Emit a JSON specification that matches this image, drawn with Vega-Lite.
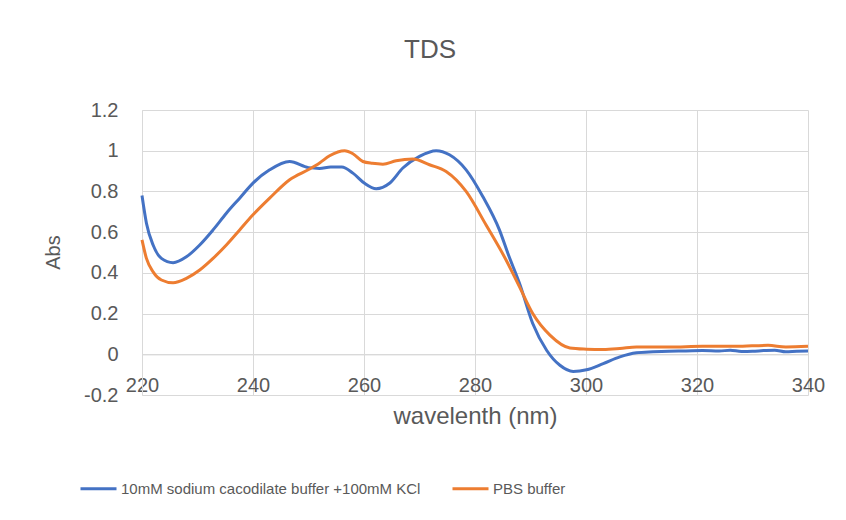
{
  "$schema": "https://vega.github.io/schema/vega-lite/v6.json",
  "autosize": "none",
  "width": 666,
  "height": 285,
  "padding": {"left": 142, "top": 110, "right": 38, "bottom": 125},
  "background": "white",
  "title": {
    "text": "TDS",
    "frame": "group",
    "anchor": "middle",
    "dx": -45,
    "offset": 16,
    "baseline": "alphabetic",
    "font": "Liberation Sans",
    "fontSize": 26,
    "fontWeight": "normal",
    "color": "#595959"
  },
  "data": {
    "values": [
      {"series": "10mM sodium cacodilate buffer +100mM KCl", "wl": 220, "abs": 0.78},
      {"series": "10mM sodium cacodilate buffer +100mM KCl", "wl": 220.8, "abs": 0.644},
      {"series": "10mM sodium cacodilate buffer +100mM KCl", "wl": 222, "abs": 0.537},
      {"series": "10mM sodium cacodilate buffer +100mM KCl", "wl": 223.5, "abs": 0.471},
      {"series": "10mM sodium cacodilate buffer +100mM KCl", "wl": 225.6, "abs": 0.45},
      {"series": "10mM sodium cacodilate buffer +100mM KCl", "wl": 228, "abs": 0.479},
      {"series": "10mM sodium cacodilate buffer +100mM KCl", "wl": 230.4, "abs": 0.537},
      {"series": "10mM sodium cacodilate buffer +100mM KCl", "wl": 232.8, "abs": 0.611},
      {"series": "10mM sodium cacodilate buffer +100mM KCl", "wl": 235.2, "abs": 0.693},
      {"series": "10mM sodium cacodilate buffer +100mM KCl", "wl": 237.6, "abs": 0.767},
      {"series": "10mM sodium cacodilate buffer +100mM KCl", "wl": 240, "abs": 0.841},
      {"series": "10mM sodium cacodilate buffer +100mM KCl", "wl": 243, "abs": 0.906},
      {"series": "10mM sodium cacodilate buffer +100mM KCl", "wl": 246.6, "abs": 0.947},
      {"series": "10mM sodium cacodilate buffer +100mM KCl", "wl": 250, "abs": 0.917},
      {"series": "10mM sodium cacodilate buffer +100mM KCl", "wl": 252, "abs": 0.913},
      {"series": "10mM sodium cacodilate buffer +100mM KCl", "wl": 254, "abs": 0.92},
      {"series": "10mM sodium cacodilate buffer +100mM KCl", "wl": 256, "abs": 0.92},
      {"series": "10mM sodium cacodilate buffer +100mM KCl", "wl": 258, "abs": 0.89},
      {"series": "10mM sodium cacodilate buffer +100mM KCl", "wl": 260.1, "abs": 0.84},
      {"series": "10mM sodium cacodilate buffer +100mM KCl", "wl": 262.2, "abs": 0.813},
      {"series": "10mM sodium cacodilate buffer +100mM KCl", "wl": 264.6, "abs": 0.84},
      {"series": "10mM sodium cacodilate buffer +100mM KCl", "wl": 267, "abs": 0.915},
      {"series": "10mM sodium cacodilate buffer +100mM KCl", "wl": 270, "abs": 0.972},
      {"series": "10mM sodium cacodilate buffer +100mM KCl", "wl": 273, "abs": 1.0},
      {"series": "10mM sodium cacodilate buffer +100mM KCl", "wl": 275.4, "abs": 0.98},
      {"series": "10mM sodium cacodilate buffer +100mM KCl", "wl": 278.4, "abs": 0.906},
      {"series": "10mM sodium cacodilate buffer +100mM KCl", "wl": 281.4, "abs": 0.775},
      {"series": "10mM sodium cacodilate buffer +100mM KCl", "wl": 284.4, "abs": 0.611},
      {"series": "10mM sodium cacodilate buffer +100mM KCl", "wl": 286, "abs": 0.49},
      {"series": "10mM sodium cacodilate buffer +100mM KCl", "wl": 288, "abs": 0.35},
      {"series": "10mM sodium cacodilate buffer +100mM KCl", "wl": 290.4, "abs": 0.151},
      {"series": "10mM sodium cacodilate buffer +100mM KCl", "wl": 292.9, "abs": 0.02},
      {"series": "10mM sodium cacodilate buffer +100mM KCl", "wl": 295.3, "abs": -0.054},
      {"series": "10mM sodium cacodilate buffer +100mM KCl", "wl": 297.7, "abs": -0.084},
      {"series": "10mM sodium cacodilate buffer +100mM KCl", "wl": 300.1, "abs": -0.076},
      {"series": "10mM sodium cacodilate buffer +100mM KCl", "wl": 303.1, "abs": -0.046},
      {"series": "10mM sodium cacodilate buffer +100mM KCl", "wl": 306.1, "abs": -0.013},
      {"series": "10mM sodium cacodilate buffer +100mM KCl", "wl": 309.1, "abs": 0.007},
      {"series": "10mM sodium cacodilate buffer +100mM KCl", "wl": 312.1, "abs": 0.012},
      {"series": "10mM sodium cacodilate buffer +100mM KCl", "wl": 315, "abs": 0.015},
      {"series": "10mM sodium cacodilate buffer +100mM KCl", "wl": 318, "abs": 0.016},
      {"series": "10mM sodium cacodilate buffer +100mM KCl", "wl": 321, "abs": 0.018},
      {"series": "10mM sodium cacodilate buffer +100mM KCl", "wl": 324, "abs": 0.016},
      {"series": "10mM sodium cacodilate buffer +100mM KCl", "wl": 326, "abs": 0.02},
      {"series": "10mM sodium cacodilate buffer +100mM KCl", "wl": 328, "abs": 0.014},
      {"series": "10mM sodium cacodilate buffer +100mM KCl", "wl": 330, "abs": 0.015},
      {"series": "10mM sodium cacodilate buffer +100mM KCl", "wl": 332, "abs": 0.018},
      {"series": "10mM sodium cacodilate buffer +100mM KCl", "wl": 334, "abs": 0.02},
      {"series": "10mM sodium cacodilate buffer +100mM KCl", "wl": 336, "abs": 0.012},
      {"series": "10mM sodium cacodilate buffer +100mM KCl", "wl": 338, "abs": 0.015},
      {"series": "10mM sodium cacodilate buffer +100mM KCl", "wl": 340, "abs": 0.016},
      {"series": "PBS buffer", "wl": 220, "abs": 0.562},
      {"series": "PBS buffer", "wl": 220.8, "abs": 0.471},
      {"series": "PBS buffer", "wl": 222, "abs": 0.405},
      {"series": "PBS buffer", "wl": 223.5, "abs": 0.365},
      {"series": "PBS buffer", "wl": 225.6, "abs": 0.351},
      {"series": "PBS buffer", "wl": 228, "abs": 0.373},
      {"series": "PBS buffer", "wl": 230.4, "abs": 0.414},
      {"series": "PBS buffer", "wl": 232.8, "abs": 0.471},
      {"series": "PBS buffer", "wl": 235.2, "abs": 0.537},
      {"series": "PBS buffer", "wl": 237.6, "abs": 0.611},
      {"series": "PBS buffer", "wl": 240, "abs": 0.685},
      {"series": "PBS buffer", "wl": 243, "abs": 0.767},
      {"series": "PBS buffer", "wl": 246.6, "abs": 0.857},
      {"series": "PBS buffer", "wl": 250.2, "abs": 0.91},
      {"series": "PBS buffer", "wl": 252, "abs": 0.94},
      {"series": "PBS buffer", "wl": 253.8, "abs": 0.975},
      {"series": "PBS buffer", "wl": 256.5, "abs": 1.0},
      {"series": "PBS buffer", "wl": 258, "abs": 0.985},
      {"series": "PBS buffer", "wl": 259.8, "abs": 0.947},
      {"series": "PBS buffer", "wl": 261.5, "abs": 0.938},
      {"series": "PBS buffer", "wl": 263.4, "abs": 0.934},
      {"series": "PBS buffer", "wl": 265.8, "abs": 0.951},
      {"series": "PBS buffer", "wl": 268.8, "abs": 0.959},
      {"series": "PBS buffer", "wl": 271.8, "abs": 0.931},
      {"series": "PBS buffer", "wl": 274.8, "abs": 0.898},
      {"series": "PBS buffer", "wl": 278.4, "abs": 0.8},
      {"series": "PBS buffer", "wl": 282, "abs": 0.635},
      {"series": "PBS buffer", "wl": 285.6, "abs": 0.463},
      {"series": "PBS buffer", "wl": 288, "abs": 0.332},
      {"series": "PBS buffer", "wl": 290.4, "abs": 0.2},
      {"series": "PBS buffer", "wl": 293.5, "abs": 0.094},
      {"series": "PBS buffer", "wl": 297.1, "abs": 0.031},
      {"series": "PBS buffer", "wl": 300.1, "abs": 0.025},
      {"series": "PBS buffer", "wl": 303.1, "abs": 0.023},
      {"series": "PBS buffer", "wl": 306.1, "abs": 0.028},
      {"series": "PBS buffer", "wl": 309.1, "abs": 0.036},
      {"series": "PBS buffer", "wl": 315, "abs": 0.036},
      {"series": "PBS buffer", "wl": 321, "abs": 0.039},
      {"series": "PBS buffer", "wl": 327, "abs": 0.039},
      {"series": "PBS buffer", "wl": 332.8, "abs": 0.044},
      {"series": "PBS buffer", "wl": 336, "abs": 0.036},
      {"series": "PBS buffer", "wl": 340, "abs": 0.039}
    ]
  },
  "mark": {"type": "line", "strokeWidth": 3, "interpolate": "monotone", "clip": false},
  "encoding": {
    "x": {
      "field": "wl",
      "type": "quantitative",
      "scale": {"domain": [220, 340], "nice": false, "zero": false},
      "axis": {
        "title": "wavelenth (nm)",
        "values": [220, 240, 260, 280, 300, 320, 340],
        "offset": -40.6,
        "ticks": false,
        "domain": true,
        "domainColor": "#d9d9d9",
        "domainWidth": 1,
        "grid": true,
        "gridColor": "#d9d9d9",
        "gridWidth": 1,
        "labelFont": "Liberation Sans",
        "labelFontSize": 20,
        "labelColor": "#595959",
        "labelBaseline": "alphabetic",
        "labelPadding": 37,
        "labelFlush": false,
        "labelOverlap": false,
        "titleFont": "Liberation Sans",
        "titleFontSize": 24,
        "titleFontWeight": "normal",
        "titleColor": "#595959",
        "titleBaseline": "alphabetic",
        "titleY": 69
      }
    },
    "y": {
      "field": "abs",
      "type": "quantitative",
      "scale": {"domain": [-0.2, 1.2], "nice": false, "zero": false},
      "axis": {
        "title": "Abs",
        "values": [-0.2, 0, 0.2, 0.4, 0.6, 0.8, 1, 1.2],
        "labelExpr": "datum.value < 0 ? '-' + format(-datum.value, '~g') : format(datum.value, '~g')",
        "ticks": false,
        "domain": true,
        "domainColor": "#d9d9d9",
        "grid": true,
        "gridColor": "#d9d9d9",
        "gridWidth": 1,
        "labelFont": "Liberation Sans",
        "labelFontSize": 20,
        "labelColor": "#595959",
        "labelPadding": 24,
        "labelFlush": false,
        "labelOverlap": false,
        "titleFont": "Liberation Sans",
        "titleFontSize": 20,
        "titleFontWeight": "normal",
        "titleColor": "#595959",
        "titleAngle": -90,
        "titleAlign": "center",
        "titleBaseline": "middle",
        "titleX": -89,
        "titleY": 142
      }
    },
    "color": {
      "field": "series",
      "type": "nominal",
      "scale": {
        "domain": ["10mM sodium cacodilate buffer +100mM KCl", "PBS buffer"],
        "range": ["#4472C4", "#ED7D31"]
      },
      "legend": {
        "title": null,
        "orient": "none",
        "direction": "horizontal",
        "legendX": -63,
        "legendY": 359,
        "symbolType": "stroke",
        "symbolSize": 1296,
        "symbolStrokeWidth": 3,
        "labelFont": "Liberation Sans",
        "labelFontSize": 15,
        "labelColor": "#595959",
        "labelOffset": 3,
        "columnPadding": 25,
        "labelLimit": 500
      }
    }
  },
  "config": {"view": {"stroke": null}}
}
